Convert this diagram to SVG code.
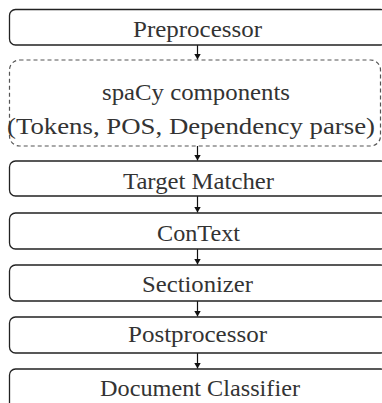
<svg xmlns="http://www.w3.org/2000/svg" width="382" height="403" viewBox="0 0 382 403">
<defs>
<style>
.box{fill:#fff;stroke:#222;stroke-width:1.3}
.dash{fill:#fff;stroke:#555;stroke-width:1.2;stroke-dasharray:4,3}
.t{font-family:"Liberation Serif","Times New Roman",serif;font-size:23px;fill:#333;text-anchor:middle}
.c{stroke:#111;stroke-width:1.2;fill:none}
</style>
<marker id="ah" markerWidth="6" markerHeight="7" refX="6" refY="3.5" orient="auto" markerUnits="userSpaceOnUse">
<path d="M0,0 L6,3.5 L0,7 Z" fill="#111"/>
</marker>
</defs>
<rect width="382" height="403" fill="#fff"/>
<g id="connectors">
<line class="c" x1="197.5" y1="45" x2="197.5" y2="59.5" marker-end="url(#ah)"/>
<line class="c" x1="197.5" y1="146" x2="197.5" y2="160.5" marker-end="url(#ah)"/>
<line class="c" x1="197.5" y1="196" x2="197.5" y2="212.5" marker-end="url(#ah)"/>
<line class="c" x1="197.5" y1="249" x2="197.5" y2="264.5" marker-end="url(#ah)"/>
<line class="c" x1="197.5" y1="301" x2="197.5" y2="316.5" marker-end="url(#ah)"/>
<line class="c" x1="197.5" y1="353" x2="197.5" y2="368.5" marker-end="url(#ah)"/>
</g>
<g id="preprocessor">
<rect class="box" x="9.5" y="9.5" width="377" height="35.5" rx="6"/>
<text class="t" x="197.5" y="36.5" textLength="129" lengthAdjust="spacingAndGlyphs">Preprocessor</text>
</g>
<g id="spacy">
<rect class="dash" x="9.5" y="60" width="371" height="86" rx="10"/>
<text class="t" x="196" y="100" textLength="188" lengthAdjust="spacingAndGlyphs">spaCy components</text>
<text class="t" x="191" y="134" textLength="368" lengthAdjust="spacingAndGlyphs">(Tokens, POS, Dependency parse)</text>
</g>
<g id="target-matcher">
<rect class="box" x="9.5" y="161" width="377" height="35" rx="6"/>
<text class="t" x="198.5" y="189" textLength="151" lengthAdjust="spacingAndGlyphs">Target Matcher</text>
</g>
<g id="context">
<rect class="box" x="9.5" y="213" width="377" height="36" rx="6"/>
<text class="t" x="198.5" y="240.5" textLength="83" lengthAdjust="spacingAndGlyphs">ConText</text>
</g>
<g id="sectionizer">
<rect class="box" x="9.5" y="265" width="377" height="36" rx="6"/>
<text class="t" x="197.5" y="292" textLength="111" lengthAdjust="spacingAndGlyphs">Sectionizer</text>
</g>
<g id="postprocessor">
<rect class="box" x="9.5" y="317" width="377" height="36" rx="6"/>
<text class="t" x="197.5" y="342" textLength="139" lengthAdjust="spacingAndGlyphs">Postprocessor</text>
</g>
<g id="document-classifier">
<rect class="box" x="9.5" y="369" width="377" height="40" rx="6"/>
<text class="t" x="200" y="395.5" textLength="200" lengthAdjust="spacingAndGlyphs">Document Classifier</text>
</g>
</svg>
